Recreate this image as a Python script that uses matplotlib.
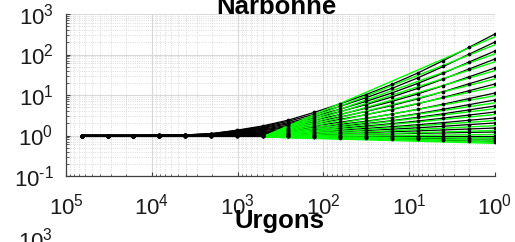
import numpy as np
import matplotlib
matplotlib.use("Agg")
import matplotlib.pyplot as plt
from matplotlib.ticker import FuncFormatter

plt.rcParams['font.family'] = ['Liberation Sans', 'DejaVu Sans']
plt.rcParams['mathtext.default'] = 'regular'

# scale (octaves from 2^16 down to 2^0)
scale = [65536, 32768, 16384, 8192, 4096, 2048, 1024, 512, 256,
         128, 64, 32, 16, 8, 4, 2, 1]

# black curves (one list per curve)
black_curves = [
    [1, 1, 1, 1.01, 1.035, 1.11, 1.35, 1.72, 2.4, 3.72, 6.03, 10.2, 18.2, 34.7, 70.8, 151, 321],
    [1, 1, 1, 1.01, 1.03, 1.10, 1.32, 1.65, 2.24, 3.34, 5.22, 8.53, 14.5, 26.3, 50.6, 102, 204],
    [1, 1, 1, 1.01, 1.03, 1.09, 1.28, 1.57, 2.07, 2.98, 4.46, 6.93, 11.2, 19.2, 34.6, 65.3, 122],
    [1, 1, 1, 1.01, 1.03, 1.08, 1.25, 1.51, 1.94, 2.69, 3.87, 5.77, 8.91, 14.5, 24.8, 44.0, 77.4],
    [1, 1, 1, 1.01, 1.02, 1.07, 1.22, 1.43, 1.79, 2.39, 3.30, 4.70, 6.89, 10.6, 17.0, 28.2, 46.5],
    [1, 1, 1, 1.01, 1.02, 1.06, 1.19, 1.37, 1.67, 2.15, 2.86, 3.91, 5.48, 8.00, 12.1, 19.0, 29.4],
    [1, 1, 1, 1.01, 1.02, 1.05, 1.16, 1.32, 1.56, 1.94, 2.49, 3.26, 4.36, 6.06, 8.69, 12.8, 18.7],
    [1, 1, 1, 1.0, 1.01, 1.04, 1.13, 1.25, 1.44, 1.73, 2.12, 2.65, 3.37, 4.42, 5.94, 8.18, 11.2],
    [1, 1, 1, 1.0, 1.01, 1.04, 1.11, 1.21, 1.36, 1.58, 1.87, 2.25, 2.76, 3.46, 4.44, 5.79, 7.53],
    [1, 1, 1, 1.0, 1.01, 1.03, 1.09, 1.17, 1.29, 1.46, 1.68, 1.96, 2.32, 2.81, 3.44, 4.30, 5.35],
    [1, 1, 1, 1.0, 1.01, 1.02, 1.07, 1.13, 1.22, 1.35, 1.51, 1.71, 1.96, 2.27, 2.68, 3.20, 3.80],
    [1, 1, 1, 1.0, 1.0, 1.02, 1.05, 1.10, 1.16, 1.25, 1.36, 1.49, 1.65, 1.84, 2.08, 2.38, 2.70],
    [1, 1, 1, 1.0, 1.0, 1.01, 1.04, 1.07, 1.11, 1.17, 1.25, 1.33, 1.43, 1.55, 1.69, 1.86, 2.04],
    [1, 1, 1, 1.0, 1.0, 1.0, 1.02, 1.04, 1.07, 1.10, 1.14, 1.19, 1.24, 1.30, 1.37, 1.45, 1.53],
    [1, 1, 1, 1.0, 1.0, 1.0, 1.01, 1.02, 1.03, 1.05, 1.06, 1.08, 1.10, 1.13, 1.16, 1.19, 1.22],
    [1, 1, 1, 1, 1, 1, 1, 1, 1, 1, 1, 1, 1, 1, 1, 1, 1],
    [1, 1, 1, 1, 1, 1, 1.0, 0.99, 0.98, 0.97, 0.96, 0.94, 0.93, 0.92, 0.90, 0.88, 0.87],
    [1, 1, 1, 1, 1, 1, 0.99, 0.98, 0.96, 0.94, 0.92, 0.90, 0.88, 0.855, 0.83, 0.80, 0.77],
    [1, 1, 1, 1, 1, 1, 0.98, 0.97, 0.95, 0.92, 0.89, 0.86, 0.83, 0.80, 0.76, 0.73, 0.69],
]

# green straight fits: common start, one end value per curve
green_x = [512, 1]
green_start = 0.92
green_end = [275, 174, 104, 66, 40, 25, 16, 9.6, 6.4, 4.6, 3.3, 2.35,
             1.75, 1.33, 1.06, 0.88, 0.77, 0.69, 0.64]


def pow10(v, pos):
    e = int(round(np.log10(v)))
    s = str(e).replace('-', '\u2010')
    return r'$\mathdefault{10^{%s}}$' % s


W, H = 515, 242
fig = plt.figure(figsize=(W / 100, H / 100), dpi=100)
ax = fig.add_axes([66 / W, 1 - 176 / H, 429 / W, 162 / H])

for ys in black_curves:
    ax.plot(scale, ys, color='black', lw=0.9, zorder=2)
for g in green_end:
    ax.plot(green_x, [green_start, g], color='#00ff00', lw=1.0, zorder=3)
for ys in black_curves:
    ax.plot(scale, ys, ls='none', marker='o', ms=2.7, mew=0, color='black', zorder=4)

ax.set_xscale('log')
ax.set_yscale('log')
ax.set_xlim(1e5, 1e0)
ax.set_ylim(0.1, 1000)
ax.set_xticks([1e5, 1e4, 1e3, 1e2, 1e1, 1e0])
ax.set_yticks([0.1, 1, 10, 100, 1000])
ax.xaxis.set_major_formatter(FuncFormatter(pow10))
ax.yaxis.set_major_formatter(FuncFormatter(pow10))

ax.grid(True, which='major', color='#d9d9d9', lw=0.8, ls='-')
ax.grid(True, which='minor', color='#d0d0d0', lw=0.6, ls=':')
ax.set_axisbelow(True)

for s in ['top', 'right']:
    ax.spines[s].set_visible(False)
for s in ['left', 'bottom']:
    ax.spines[s].set_color('#404040')
    ax.spines[s].set_linewidth(0.9)

ax.tick_params(which='both', direction='in', colors='#404040', labelcolor='#1a1a1a')
ax.tick_params(which='major', length=3, width=0.8, labelsize=16)
ax.tick_params(which='minor', length=1.8, width=0.6)
ax.tick_params(axis='x', pad=13)
ax.tick_params(axis='y', pad=9)

fig.text(276 / W, 1 - 14.5 / H, 'Narbonne', ha='center', va='baseline',
         fontsize=18.5, fontweight='bold')
fig.text(280 / W, 1 - 228 / H, 'Urgons', ha='center', va='baseline',
         fontsize=18.5, fontweight='bold')
fig.text(53 / W, 1 - 238 / H, r'$\mathdefault{10^{3}}$', ha='right',
         va='center_baseline', fontsize=16, color='#1a1a1a')

fig.savefig('out.png', dpi=100)
